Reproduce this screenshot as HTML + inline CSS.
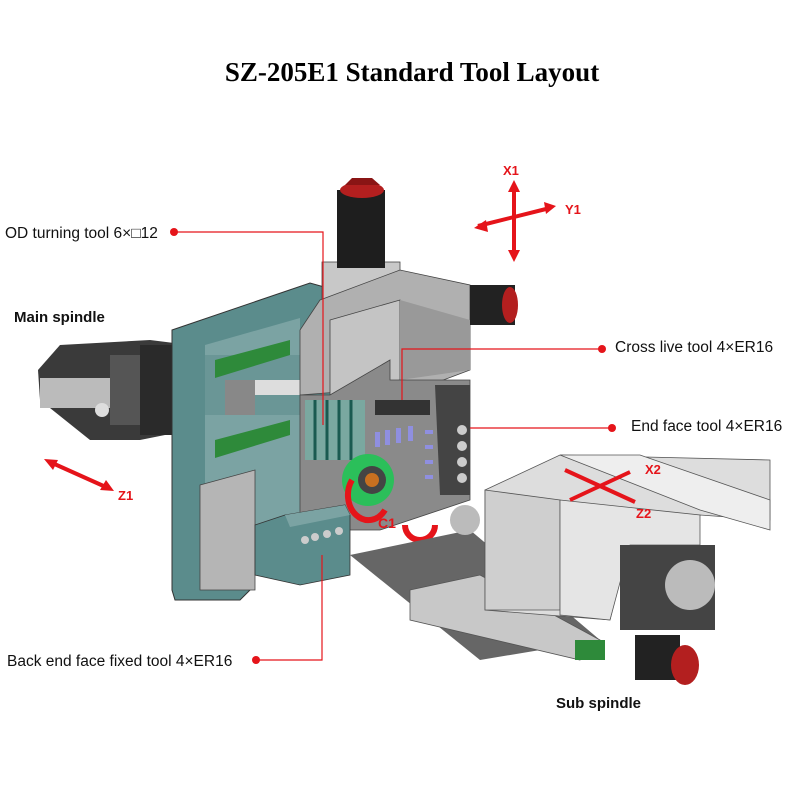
<!DOCTYPE html>
<html><head><meta charset="utf-8"><style>
body{margin:0;background:#fff;}
svg{display:block}
text{font-family:"Liberation Sans",sans-serif;}
</style></head><body>
<svg width="800" height="800" viewBox="0 0 800 800">
<text x="412" y="81" text-anchor="middle" font-weight="bold" font-size="27" style="font-family:'Liberation Serif',serif">SZ-205E1 Standard Tool Layout</text>

<!-- main spindle -->
<polygon points="38,370 60,345 150,340 190,345 190,430 140,440 90,440 40,400" fill="#3a3a3a"/>
<rect x="40" y="378" width="70" height="30" fill="#bbb"/>
<rect x="110" y="355" width="30" height="70" fill="#555"/>
<rect x="140" y="345" width="45" height="90" fill="#2a2a2a"/>
<circle cx="102" cy="410" r="7" fill="#ddd"/>

<!-- teal body -->
<polygon points="172,330 310,283 335,290 335,470 250,500 250,590 240,600 175,600 172,590" fill="#5b8c8c" stroke="#333" stroke-width="1"/>
<polygon points="205,345 300,318 300,520 205,545" fill="#7ba3a3"/>
<rect x="205" y="355" width="95" height="60" fill="#6a9696"/>
<polygon points="215,360 290,340 290,355 215,378" fill="#2e8a3a"/>
<polygon points="215,440 290,420 290,435 215,458" fill="#2e8a3a"/>
<rect x="225" y="380" width="30" height="35" fill="#888"/>
<rect x="255" y="380" width="45" height="15" fill="#ddd"/>
<polygon points="200,485 255,470 255,590 200,590" fill="#b5b5b5" stroke="#444" stroke-width="0.8"/>

<!-- top gray block with motor -->
<rect x="322" y="262" width="78" height="40" fill="#c8c8c8" stroke="#444" stroke-width="0.8"/>
<rect x="337" y="190" width="48" height="78" fill="#1e1e1e"/>
<ellipse cx="362" cy="190" rx="22" ry="8" fill="#b31f1f"/>
<polygon points="345,185 352,178 372,178 380,185" fill="#8a1515"/>
<polygon points="320,300 400,270 470,285 470,370 430,385 300,395 300,330" fill="#b0b0b0" stroke="#444" stroke-width="0.8"/>
<polygon points="330,320 400,300 400,380 330,395" fill="#c4c4c4" stroke="#444" stroke-width="0.8"/>
<polygon points="400,300 470,320 470,370 400,380" fill="#999"/>
<rect x="470" y="285" width="45" height="40" fill="#222"/>
<ellipse cx="510" cy="305" rx="8" ry="18" fill="#b31f1f"/>

<!-- turret tool area -->
<polygon points="300,395 330,395 390,360 390,380 470,380 470,500 380,530 300,530" fill="#8a8a8a" stroke="#444" stroke-width="0.8"/>
<rect x="305" y="400" width="60" height="60" fill="#7aa8a0"/>
<g stroke="#1a5a50" stroke-width="3"><line x1="315" y1="400" x2="315" y2="460"/><line x1="327" y1="400" x2="327" y2="460"/><line x1="339" y1="400" x2="339" y2="460"/><line x1="351" y1="400" x2="351" y2="460"/></g>
<rect x="375" y="400" width="55" height="15" fill="#333"/>
<polygon points="435,385 470,385 470,495 440,495" fill="#444"/>
<g fill="#ccc"><circle cx="462" cy="430" r="5"/><circle cx="462" cy="446" r="5"/><circle cx="462" cy="462" r="5"/><circle cx="462" cy="478" r="5"/></g>
<g fill="#8f8fe0"><rect x="375" y="432" width="5" height="15"/><rect x="385" y="430" width="5" height="15"/><rect x="396" y="428" width="5" height="15"/><rect x="408" y="426" width="5" height="15"/><rect x="425" y="430" width="8" height="4"/><rect x="425" y="445" width="8" height="4"/><rect x="425" y="460" width="8" height="4"/><rect x="425" y="475" width="8" height="4"/></g>
<circle cx="368" cy="480" r="26" fill="#2bbf5a"/>
<circle cx="372" cy="480" r="14" fill="#444"/>
<circle cx="372" cy="480" r="7" fill="#c87020"/>
<path d="M352,480 A18,22 0 0 0 385,510" stroke="#e5141a" stroke-width="6" fill="none"/>
<path d="M405,525 A15,15 0 0 0 435,525" stroke="#e5141a" stroke-width="6" fill="none"/>
<text x="378" y="528" font-size="14" font-weight="bold" fill="#e5141a">C1</text>
<text x="430" y="548" font-size="14" font-weight="bold" fill="#e5141a">C2</text>

<!-- back end face block -->
<polygon points="255,525 285,515 345,505 350,515 350,575 300,585 255,575" fill="#5b8c8c" stroke="#333" stroke-width="0.8"/>
<polygon points="285,515 345,505 350,515 290,527" fill="#7ba3a3"/>
<g fill="#ccc"><circle cx="305" cy="540" r="4"/><circle cx="315" cy="537" r="4"/><circle cx="327" cy="534" r="4"/><circle cx="339" cy="531" r="4"/></g>

<!-- bed -->
<polygon points="350,555 470,530 600,640 480,660" fill="#666"/>
<polygon points="410,590 480,575 600,640 580,660 410,620" fill="#c8c8c8" stroke="#555" stroke-width="0.8"/>

<!-- sub spindle -->
<polygon points="485,490 560,455 770,460 770,520 700,515 630,540 610,620 485,610" fill="#ddd" stroke="#555" stroke-width="0.8"/>
<polygon points="560,455 640,455 770,500 770,530 700,510" fill="#eee" stroke="#555" stroke-width="0.8"/>
<polygon points="485,490 560,500 560,610 485,610" fill="#cfcfcf" stroke="#555" stroke-width="0.8"/>
<polygon points="560,500 700,515 700,545 630,545 610,620 560,615" fill="#e5e5e5" stroke="#555" stroke-width="0.8"/>
<ellipse cx="465" cy="520" rx="15" ry="15" fill="#bbb"/>
<rect x="620" y="545" width="95" height="85" fill="#444"/>
<circle cx="690" cy="585" r="25" fill="#bbb"/>
<rect x="635" y="635" width="45" height="45" fill="#222"/>
<ellipse cx="685" cy="665" rx="14" ry="20" fill="#b31f1f"/>
<rect x="575" y="640" width="30" height="20" fill="#2e8a3a"/>

<!-- axes -->
<g stroke="#e5141a" stroke-width="4" fill="#e5141a">
<line x1="514" y1="187" x2="514" y2="255"/><line x1="478" y1="226" x2="550" y2="208"/>
<line x1="50" y1="462" x2="108" y2="488"/>
<line x1="565" y1="470" x2="635" y2="502"/><line x1="570" y1="500" x2="630" y2="472"/>
</g>
<g fill="#e5141a">
<polygon points="514,180 508,192 520,192"/><polygon points="514,262 508,250 520,250"/>
<polygon points="474,228 486,220 488,232"/><polygon points="556,206 544,202 546,214"/>
<polygon points="44,459 58,460 53,470"/><polygon points="114,491 100,490 106,480"/>
</g>
<g font-weight="bold" font-size="13" fill="#e5141a">
<text x="503" y="175">X1</text><text x="565" y="214">Y1</text><text x="118" y="500">Z1</text><text x="645" y="474">X2</text><text x="636" y="518">Z2</text>
</g>

<!-- callouts -->
<g stroke="#e5141a" stroke-width="1.2" fill="none">
<polyline points="174,232 323,232 323,425"/>
<polyline points="602,349 402,349 402,400"/>
<polyline points="612,428 470,428"/>
<polyline points="256,660 322,660 322,555"/>
</g>
<g fill="#e5141a"><circle cx="174" cy="232" r="4"/><circle cx="602" cy="349" r="4"/><circle cx="612" cy="428" r="4"/><circle cx="256" cy="660" r="4"/></g>
<g font-size="15.5" fill="#111">
<text x="5" y="238">OD turning tool 6×□12</text>
<text x="615" y="352">Cross live tool 4×ER16</text>
<text x="631" y="431">End face tool 4×ER16</text>
<text x="7" y="666">Back end face fixed tool 4×ER16</text>
</g>
<g font-size="15" font-weight="bold" fill="#111">
<text x="14" y="322">Main spindle</text>
<text x="556" y="708">Sub spindle</text>
</g>
</svg>
</body></html>
